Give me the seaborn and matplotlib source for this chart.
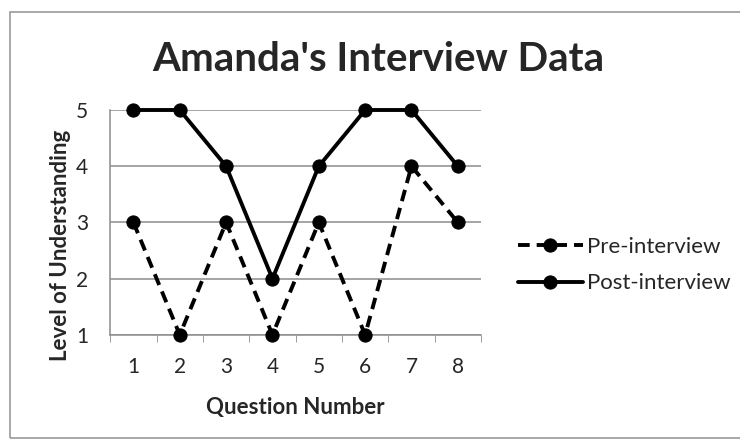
import pandas as pd
import matplotlib
matplotlib.use("Agg")
import matplotlib.pyplot as plt
import seaborn as sns
from matplotlib.patches import Rectangle
from matplotlib.ticker import FixedLocator

questions = [1, 2, 3, 4, 5, 6, 7, 8]
pre_interview = [3, 1, 3, 1, 3, 1, 4, 3]
post_interview = [5, 5, 4, 2, 4, 5, 5, 4]
series_names = ["Pre-interview", "Post-interview"]
y_ticks = [1, 2, 3, 4, 5]

df = pd.DataFrame({
    "question": questions * 2,
    "level": pre_interview + post_interview,
    "series": [series_names[0]] * len(questions) + [series_names[1]] * len(questions),
})

sns.set_style("white")
plt.rcParams["font.family"] = ["Lato", "DejaVu Sans"]

fig = plt.figure(figsize=(7.4, 4.4), dpi=100)
ax = fig.add_axes([0.149, 0.239, 0.501, 0.511])

# outer chart border like the spreadsheet frame
fig.patches.append(Rectangle((0.014, 0.005), 1.0, 0.967, transform=fig.transFigure,
                             fill=False, edgecolor="#9a9a9a", linewidth=1.2))

sns.lineplot(data=df, x="question", y="level", hue="series", style="series",
             palette={series_names[0]: "black", series_names[1]: "black"},
             dashes={series_names[0]: (3, 1.8), series_names[1]: ""},
             markers={series_names[0]: "o", series_names[1]: "o"},
             markersize=9.5, linewidth=2.8, markeredgecolor="black",
             ax=ax, clip_on=False, zorder=3)

ax.set_xlim(0.5, 8.5)
ax.set_ylim(1, 5)
ax.set_xticks(questions)
ax.set_yticks(y_ticks)
ax.xaxis.set_minor_locator(FixedLocator([q - 0.5 for q in questions] + [8.5]))
ax.tick_params(axis="x", which="major", length=0, labelsize=15, pad=16)
ax.tick_params(axis="x", which="minor", length=5, color="#8c8c8c", direction="out", bottom=True)
ax.tick_params(axis="y", length=0, labelsize=15, pad=16)
ax.grid(axis="y", color="#8c8c8c", linewidth=1.1)
ax.set_axisbelow(True)

for side in ["top", "right"]:
    ax.spines[side].set_visible(False)
for side in ["left", "bottom"]:
    ax.spines[side].set_color("#8c8c8c")
    ax.spines[side].set_linewidth(1.1)

ax.set_xlabel("Question Number", fontsize=16, fontweight="bold", labelpad=14)
ax.set_ylabel("Level of Understanding", fontsize=16, fontweight="bold")
ax.yaxis.set_label_coords(-0.105, 0.4)
fig.text(0.511, 0.865, "Amanda's Interview Data", ha="center", va="center",
         fontsize=29, fontweight="bold")

handles, labels = ax.get_legend_handles_labels()
ax.legend(handles, labels, loc="center left", bbox_to_anchor=(1.10, 0.31),
          frameon=False, fontsize=16, handlelength=2.9, labelspacing=0.75,
          handletextpad=0.2, borderaxespad=0, borderpad=0)

fig.savefig("out.png", dpi=100)
